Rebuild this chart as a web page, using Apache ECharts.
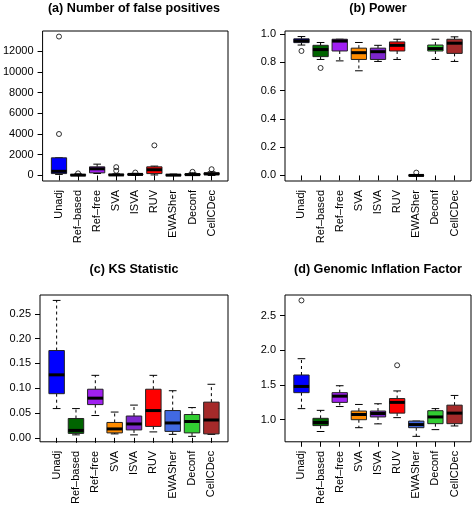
<!DOCTYPE html>
<html>
<head>
<meta charset="utf-8">
<script src="https://cdn.jsdelivr.net/npm/echarts@6/dist/echarts.min.js"></script>
<style>
html,body{margin:0;padding:0;background:#fff;}
#chart{width:472px;height:507px;}
</style>
</head>
<body>
<div id="chart"></div>
<script>
// ---------- data ----------
const categories = ['Unadj', 'Ref\u2013based', 'Ref\u2013free', 'SVA', 'ISVA', 'RUV', 'EWASher', 'Deconf', 'CellCDec'];
const boxColors = ['#0000FF', '#006400', '#A020F0', '#FF8C00', '#7D26CD', '#FF0000', '#4169E1', '#32CD32', '#A52A2A'];

// each row: [lower whisker, Q1, median, Q3, upper whisker]
const fpStats = [
  [100, 180, 400, 1700, 1700],
  [0, 10, 30, 80, 150],
  [190, 250, 640, 830, 1090],
  [0, 20, 50, 100, 150],
  [0, 50, 100, 150, 200],
  [50, 180, 550, 830, 900],
  [0, 0, 30, 80, 130],
  [0, 30, 80, 150, 250],
  [0, 80, 150, 250, 350]
];
// [category number (1-based), value]
const fpOutliers = [[1, 4000], [1, 13400], [2, 200], [4, 450], [4, 800], [5, 280], [6, 2900], [8, 350], [9, 600]];

const powerStats = [
  [0.922, 0.939, 0.952, 0.966, 0.982],
  [0.82, 0.84, 0.89, 0.92, 0.94],
  [0.81, 0.88, 0.95, 0.963, 0.963],
  [0.74, 0.82, 0.868, 0.90, 0.94],
  [0.806, 0.82, 0.875, 0.90, 0.92],
  [0.82, 0.88, 0.92, 0.944, 0.963],
  [0, 0, 0, 0.002, 0.005],
  [0.82, 0.88, 0.897, 0.922, 0.963],
  [0.806, 0.863, 0.935, 0.963, 0.98]
];
const powerOutliers = [[1, 0.88], [2, 0.76], [7, 0.02]];

const ksStats = [
  [0.059, 0.089, 0.127, 0.176, 0.277],
  [0.006, 0.009, 0.015, 0.039, 0.059],
  [0.045, 0.067, 0.080, 0.098, 0.126],
  [0.008, 0.010, 0.018, 0.031, 0.052],
  [0.006, 0.016, 0.028, 0.044, 0.066],
  [0.012, 0.023, 0.055, 0.098, 0.126],
  [0.007, 0.013, 0.030, 0.055, 0.095],
  [0.003, 0.010, 0.033, 0.047, 0.061],
  [0.007, 0.008, 0.036, 0.072, 0.108]
];
const ksOutliers = [];

const gifStats = [
  [1.16, 1.39, 1.48, 1.645, 1.88],
  [0.83, 0.915, 0.96, 1.02, 1.135],
  [1.19, 1.25, 1.34, 1.39, 1.49],
  [0.885, 1.0, 1.075, 1.125, 1.22],
  [0.94, 1.04, 1.09, 1.125, 1.23],
  [1.03, 1.095, 1.25, 1.305, 1.415],
  [0.76, 0.885, 0.93, 0.98, 0.98],
  [0.857, 0.943, 1.04, 1.13, 1.16],
  [0.91, 0.943, 1.095, 1.21, 1.35]
];
const gifOutliers = [[1, 2.72], [6, 1.785]];

const fpTicks = [0, 2000, 4000, 6000, 8000, 10000, 12000];
const powerTicks = [0, 0.2, 0.4, 0.6, 0.8, 1.0];
const ksTicks = [0, 0.05, 0.10, 0.15, 0.20, 0.25];
const gifTicks = [1.0, 1.5, 2.0, 2.5];

const titles = ['(a) Number of false positives', '(b) Power', '(c) KS Statistic', '(d) Genomic Inflation Factor'];

// ---------- build ----------
const FONT = '"Liberation Sans", Arial, Helvetica, sans-serif';
const panels = [
  { stats: fpStats, out: fpOutliers, ticks: fpTicks, fmt: v => String(Math.round(v)), grid: { left: 40, top: 31, width: 188, height: 150 } },
  { stats: powerStats, out: powerOutliers, ticks: powerTicks, fmt: v => v.toFixed(1), grid: { left: 285, top: 31, width: 186, height: 150 } },
  { stats: ksStats, out: ksOutliers, ticks: ksTicks, fmt: v => v.toFixed(2), grid: { left: 40, top: 295, width: 188, height: 150 } },
  { stats: gifStats, out: gifOutliers, ticks: gifTicks, fmt: v => v.toFixed(1), grid: { left: 285, top: 295, width: 186, height: 150 } }
];

function rangeOf(stats, out) {
  let lo = Infinity, hi = -Infinity;
  stats.forEach(r => r.forEach(v => { lo = Math.min(lo, v); hi = Math.max(hi, v); }));
  out.forEach(o => { lo = Math.min(lo, o[1]); hi = Math.max(hi, o[1]); });
  const e = (hi - lo) * 0.04;
  return [lo - e, hi + e];
}

function renderBox(params, api) {
  const x = api.value(0);
  const pLow = api.coord([x, api.value(1)]);
  const pQ1 = api.coord([x, api.value(2)]);
  const pMed = api.coord([x, api.value(3)]);
  const pQ3 = api.coord([x, api.value(4)]);
  const pHigh = api.coord([x, api.value(5)]);
  const bw = api.size([1, 0])[0] * 0.8;
  const cx = pLow[0];
  const half = bw / 2, cap = bw / 4;
  const color = boxColors[x - 1];
  const blk = '#000';
  return {
    type: 'group',
    children: [
      { type: 'line', shape: { x1: cx, y1: pQ3[1], x2: cx, y2: pHigh[1] }, style: { stroke: blk, lineWidth: 1, lineDash: [3, 3] } },
      { type: 'line', shape: { x1: cx, y1: pQ1[1], x2: cx, y2: pLow[1] }, style: { stroke: blk, lineWidth: 1, lineDash: [3, 3] } },
      { type: 'line', shape: { x1: cx - cap, y1: pHigh[1], x2: cx + cap, y2: pHigh[1] }, style: { stroke: blk, lineWidth: 1 } },
      { type: 'line', shape: { x1: cx - cap, y1: pLow[1], x2: cx + cap, y2: pLow[1] }, style: { stroke: blk, lineWidth: 1 } },
      { type: 'rect', shape: { x: cx - half, y: pQ3[1], width: bw, height: pQ1[1] - pQ3[1] }, style: { fill: color, stroke: '#222', lineWidth: 1 } },
      { type: 'line', shape: { x1: cx - half, y1: pMed[1], x2: cx + half, y2: pMed[1] }, style: { stroke: blk, lineWidth: 3 } }
    ]
  };
}

const option = {
  animation: false,
  backgroundColor: '#fff',
  title: [], grid: [], xAxis: [], yAxis: [], series: []
};

panels.forEach((p, i) => {
  const g = p.grid;
  option.title.push({
    text: titles[i],
    left: g.left + g.width / 2,
    top: i < 2 ? 2 : 263,
    padding: 0,
    textAlign: 'center',
    textStyle: { fontFamily: FONT, fontSize: 12.6, fontWeight: 'bold', color: '#000' }
  });
  option.grid.push({ left: g.left, top: g.top, width: g.width, height: g.height, show: true, borderColor: '#000', borderWidth: 1, backgroundColor: 'transparent', containLabel: false });
  const xs = categories.map((c, k) => k + 1);
  option.xAxis.push({
    type: 'value', gridIndex: i, min: 0.14, max: 9.86,
    splitLine: { show: false },
    axisLine: { show: false },
    axisTick: { show: true, inside: false, length: 5, customValues: xs, lineStyle: { color: '#000', width: 1 } },
    axisLabel: {
      show: true, customValues: xs, rotate: 90, margin: 9,
      formatter: v => categories[Math.round(v) - 1],
      fontFamily: FONT, fontSize: 11, color: '#000'
    }
  });
  const r = rangeOf(p.stats, p.out);
  option.yAxis.push({
    type: 'value', gridIndex: i, min: r[0], max: r[1],
    splitLine: { show: false },
    axisLine: { show: false },
    axisTick: { show: true, inside: false, length: 5, customValues: p.ticks, lineStyle: { color: '#000', width: 1 } },
    axisLabel: { show: true, customValues: p.ticks, margin: 9, formatter: p.fmt, fontFamily: FONT, fontSize: 11, color: '#000' }
  });
  option.series.push({
    type: 'custom', xAxisIndex: i, yAxisIndex: i,
    renderItem: renderBox,
    clip: false,
    encode: { x: 0, y: [1, 2, 3, 4, 5] },
    data: p.stats.map((s, k) => [k + 1].concat(s))
  });
  option.series.push({
    type: 'scatter', xAxisIndex: i, yAxisIndex: i,
    symbol: 'circle', symbolSize: 5,
    itemStyle: { color: 'rgba(0,0,0,0)', borderColor: '#000', borderWidth: 1 },
    data: p.out
  });
});

const chart = echarts.init(document.getElementById('chart'), null, { renderer: 'canvas' });
chart.setOption(option);
</script>
</body>
</html>
